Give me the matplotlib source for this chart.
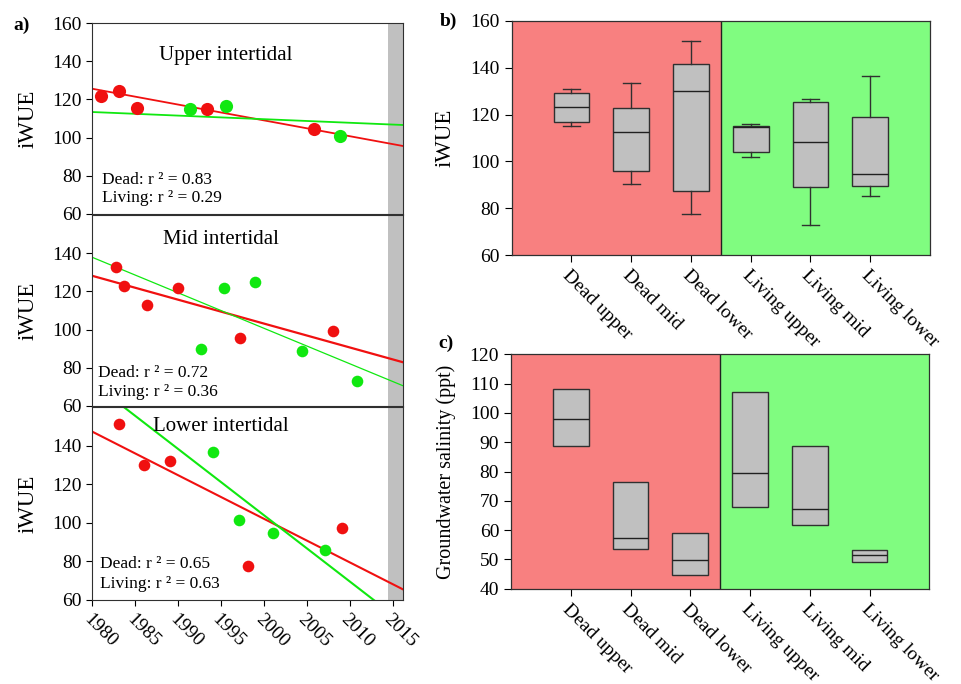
import matplotlib
matplotlib.use('Agg')
import matplotlib.pyplot as plt
import numpy as np

plt.rcParams['font.family'] = ['Liberation Serif', 'DejaVu Serif']
plt.rcParams['font.size'] = 14

# --- panel a: iWUE vs year -------------------------------------------------
zones = ['Upper intertidal', 'Mid intertidal', 'Lower intertidal']

dead_years = [
    [1981.1, 1983.1, 1985.2, 1993.4, 2005.8],
    [1982.8, 1983.7, 1986.4, 1990.0, 1997.2, 2008.0],
    [1983.1, 1986.1, 1989.1, 1998.1, 2009.1],
]
dead_iwue = [
    [121.7, 124.2, 115.3, 115.0, 104.7],
    [133.0, 123.0, 112.7, 121.9, 95.8, 99.3],
    [151.3, 130.1, 132.2, 77.7, 97.2],
]
living_years = [
    [1991.4, 1995.6, 2008.9],
    [1992.7, 1995.4, 1999.0, 2004.4, 2010.8],
    [1994.1, 1997.1, 2001.1, 2007.1],
]
living_iwue = [
    [115.1, 116.6, 101.0],
    [89.9, 121.8, 125.0, 88.9, 72.9],
    [136.7, 101.6, 94.6, 85.7],
]
# fitted lines, value at 1980 and at 2016.2
fit_years = [1980, 2016.2]
dead_fit = [[125.6, 95.6], [128.2, 82.9], [147.3, 65.5]]
living_fit = [[113.4, 106.6], [137.9, 70.6], [172.7, 48.3]]
dead_r2 = ['0.83', '0.72', '0.65']
living_r2 = ['0.29', '0.36', '0.63']

# --- panels b and c: boxes -------------------------------------------------
groups = ['Dead upper', 'Dead mid', 'Dead lower',
          'Living upper', 'Living mid', 'Living lower']
iwue_lo = [115.1, 90.3, 77.5, 101.8, 73.1, 85.4]
iwue_q1 = [116.7, 95.8, 87.3, 103.9, 89.0, 89.5]
iwue_med = [123.1, 112.7, 129.9, 114.5, 108.2, 94.8]
iwue_q3 = [129.2, 122.9, 141.7, 115.3, 125.5, 118.8]
iwue_hi = [130.9, 133.3, 151.2, 116.1, 126.5, 136.4]

sal_q1 = [88.8, 53.4, 44.6, 67.8, 61.7, 49.0]
sal_med = [97.8, 57.4, 49.7, 79.4, 67.1, 51.4]
sal_q3 = [108.05, 76.5, 59.0, 107.0, 88.8, 53.3]

RED = '#f01010'
GREEN = '#10e810'
BG_RED = '#f88080'
BG_GREEN = '#80fc80'
GREY = '#c0c0c0'

fig = plt.figure(figsize=(9.62, 6.84), dpi=100)

W, H = 962.0, 684.0
def box(x0, y0, x1, y1):
    return [x0 / W, 1 - y1 / H, (x1 - x0) / W, (y1 - y0) / H]

left_rects = [box(92, 23, 403, 214), box(92, 215, 403, 406), box(92, 407, 403, 600)]
title_pos = [(0.43, 0.83), (0.415, 0.873), (0.414, 0.90)]
r2_pos = [(0.031, 0.178, 0.084), (0.018, 0.171, 0.072), (0.026, 0.185, 0.085)]
dot_size = [90, 70, 70]
dead_lw = [1.3, 1.6, 1.5]
living_lw = [1.3, 0.9, 1.5]

for i in range(3):
    ax = fig.add_axes(left_rects[i])
    ax.set_xlim(1980, 2016.2)
    ax.set_ylim(60, 160)
    ax.axvspan(2014.5, 2016.2, color=GREY, zorder=0, lw=0)
    ax.plot(fit_years, dead_fit[i], color=RED, lw=dead_lw[i], zorder=2)
    ax.plot(fit_years, living_fit[i], color=GREEN, lw=living_lw[i], zorder=2)
    ax.scatter(dead_years[i], dead_iwue[i], s=dot_size[i], color=RED, zorder=3, lw=0)
    ax.scatter(living_years[i], living_iwue[i], s=dot_size[i], color=GREEN, zorder=3, lw=0)
    ax.text(title_pos[i][0], title_pos[i][1], zones[i], transform=ax.transAxes,
            ha='center', va='center', fontsize=15)
    ax.text(r2_pos[i][0], r2_pos[i][1], 'Dead: r \u00b2 = ' + dead_r2[i],
            transform=ax.transAxes, ha='left', va='center', fontsize=12.5)
    ax.text(r2_pos[i][0], r2_pos[i][2], 'Living: r \u00b2 = ' + living_r2[i],
            transform=ax.transAxes, ha='left', va='center', fontsize=12.5)
    ax.set_ylabel('iWUE', fontsize=16.5, labelpad=10)
    if i == 0:
        ax.set_yticks([60, 80, 100, 120, 140, 160])
        ax.set_xticks([1985, 1995, 2005, 2015])
        ax.set_xticklabels([])
    elif i == 1:
        ax.set_yticks([60, 80, 100, 120, 140])
        ax.set_xticks(np.linspace(1980, 2016.2, 9)[1:-1])
        ax.set_xticklabels([])
    else:
        ax.set_yticks([60, 80, 100, 120, 140])
        years = [1980, 1985, 1990, 1995, 2000, 2005, 2010, 2015]
        ax.set_xticks(years)
        ax.set_xticklabels([str(y) for y in years], rotation=-45, ha='left',
                           va='top', rotation_mode='anchor', fontsize=14.5)
    ax.tick_params(direction='out', length=4, width=0.8, labelsize=14)
    for s in ax.spines.values():
        s.set_linewidth(0.8)
        s.set_color('#303030')

fig.text(13 / W, 1 - 25 / H, 'a)', fontsize=14, fontweight='bold', va='center')

# --- right panels ------------------------------------------------------------
pos = np.arange(1, 7)

def shade(ax):
    ax.axvspan(0, 3.5, color=BG_RED, zorder=0, lw=0)
    ax.axvspan(3.5, 7, color=BG_GREEN, zorder=0, lw=0)
    ax.axvline(3.5, color='#202020', lw=1.0, zorder=1)
    ax.set_xlim(0, 7)
    ax.set_xticks(pos)
    ax.set_xticklabels(groups, rotation=-45, ha='left', va='top',
                       rotation_mode='anchor', fontsize=14.5)
    ax.tick_params(direction='out', length=5, width=0.8, labelsize=14)
    for s in ax.spines.values():
        s.set_linewidth(0.9)
        s.set_color('#303030')

axb = fig.add_axes(box(511.7, 20.7, 930, 255.3))
stats_b = [dict(med=iwue_med[k], q1=iwue_q1[k], q3=iwue_q3[k],
                whislo=iwue_lo[k], whishi=iwue_hi[k], fliers=[])
           for k in range(6)]
axb.bxp(stats_b, positions=pos, widths=0.6, capwidths=0.29, patch_artist=True,
        boxprops=dict(facecolor=GREY, edgecolor='#303030', lw=1.0),
        medianprops=dict(color='#202020', lw=1.0),
        whiskerprops=dict(color='#303030', lw=1.0),
        capprops=dict(color='#303030', lw=1.0), zorder=2)
shade(axb)
axb.set_ylim(60, 160)
axb.set_yticks([60, 80, 100, 120, 140, 160])
axb.set_ylabel('iWUE', fontsize=16.5, labelpad=11)
fig.text(440 / W, 1 - 21 / H, 'b)', fontsize=14, fontweight='bold', va='center')

axc = fig.add_axes(box(511, 354.3, 929.3, 588.7))
stats_c = [dict(med=sal_med[k], q1=sal_q1[k], q3=sal_q3[k],
                whislo=sal_q1[k], whishi=sal_q3[k], fliers=[])
           for k in range(6)]
axc.bxp(stats_c, positions=pos, widths=0.6, patch_artist=True, showcaps=False,
        boxprops=dict(facecolor=GREY, edgecolor='#303030', lw=1.0),
        medianprops=dict(color='#202020', lw=1.0),
        whiskerprops=dict(color='#303030', lw=1.0), zorder=2)
shade(axc)
axc.set_ylim(40, 120)
axc.set_yticks(np.arange(40, 121, 10))
axc.set_ylabel('Groundwater salinity (ppt)', fontsize=14.5, labelpad=10)
fig.text(438 / W, 1 - 343 / H, 'c)', fontsize=14, fontweight='bold', va='center')

fig.savefig('out.png', dpi=100)
